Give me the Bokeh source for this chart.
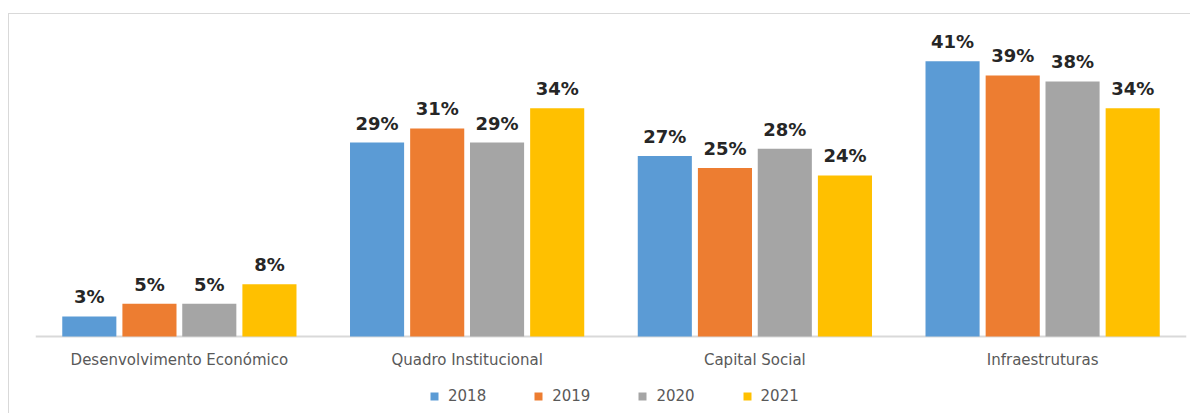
from bokeh.plotting import figure
from bokeh.models import ColumnDataSource, FactorRange, Range1d, LabelSet, Legend, LegendItem
from bokeh.transform import dodge
from bokeh.core.properties import value
from bokeh.embed import file_html
from bokeh.resources import INLINE

categories = ["Desenvolvimento Económico", "Quadro Institucional", "Capital Social", "Infraestruturas"]
years = ["2018", "2019", "2020", "2021"]
v2018 = [3.0, 28.9, 26.9, 41.0]
v2019 = [4.9, 31.0, 25.1, 38.9]
v2020 = [4.9, 28.9, 28.0, 38.0]
v2021 = [7.8, 34.0, 24.0, 34.0]
colors = ["#5B9BD5", "#ED7D31", "#A5A5A5", "#FFC000"]

series = [v2018, v2019, v2020, v2021]
data = {"cat": categories}
for y, vals in zip(years, series):
    data["v" + y] = vals
    data["l" + y] = ["%d%%" % round(v) for v in vals]
src = ColumnDataSource(data)

p = figure(x_range=FactorRange(factors=categories, range_padding=0), y_range=Range1d(-11.6, 45),
           width=1182, height=400, output_backend="svg", toolbar_location=None,
           y_axis_location=None, min_border_left=26, min_border_right=5,
           min_border_top=20, min_border_bottom=0)
p.margin = (13, 0, 0, 8)
p.styles = {"border-top": "1px solid #d9d9d9", "border-left": "1px solid #d9d9d9"}
p.xgrid.visible = False
p.ygrid.visible = False
p.outline_line_color = None
p.background_fill_color = "white"
p.border_fill_color = "white"

# baseline across the category area
base = ColumnDataSource({"a": [categories[0]], "b": [categories[-1]], "y": [0]})
p.segment(x0=dodge("a", -0.5, range=p.x_range), x1=dodge("b", 0.5, range=p.x_range),
          y0="y", y1="y", source=base, line_color="#d9d9d9", line_width=2)

offsets = [-0.313, -0.104, 0.104, 0.313]
items = []
for y, off, c in zip(years, offsets, colors):
    r = p.vbar(x=dodge("cat", off, range=p.x_range), top="v" + y, width=0.188, source=src,
               fill_color=c, line_color=None)
    items.append(LegendItem(label=y, renderers=[r]))
    lab = LabelSet(x=dodge("cat", off, range=p.x_range), y="v" + y, text="l" + y, source=src,
                   text_align="center", text_baseline="alphabetic", y_offset=13,
                   text_font=value("DejaVu Sans"), text_font_style="bold",
                   text_font_size="18px", text_color="#262626")
    p.add_layout(lab)

p.xaxis.fixed_location = 0
p.xaxis.axis_line_color = None
p.xaxis.major_tick_line_color = None
p.xaxis.minor_tick_line_color = None
p.xaxis.major_label_text_font = "DejaVu Sans"
p.xaxis.major_label_text_font_size = "15px"
p.xaxis.major_label_text_color = "#595959"
p.xaxis.major_label_standoff = 8

legend = Legend(items=items, orientation="horizontal", location=(394, 8),
                glyph_width=10, glyph_height=10, label_standoff=9, spacing=47,
                padding=0, margin=0, border_line_color=None, background_fill_alpha=0,
                label_text_font="DejaVu Sans", label_text_font_size="15px",
                label_text_color="#595959", label_height=20)
p.add_layout(legend)

open("out.html", "w").write(file_html(p, INLINE))
